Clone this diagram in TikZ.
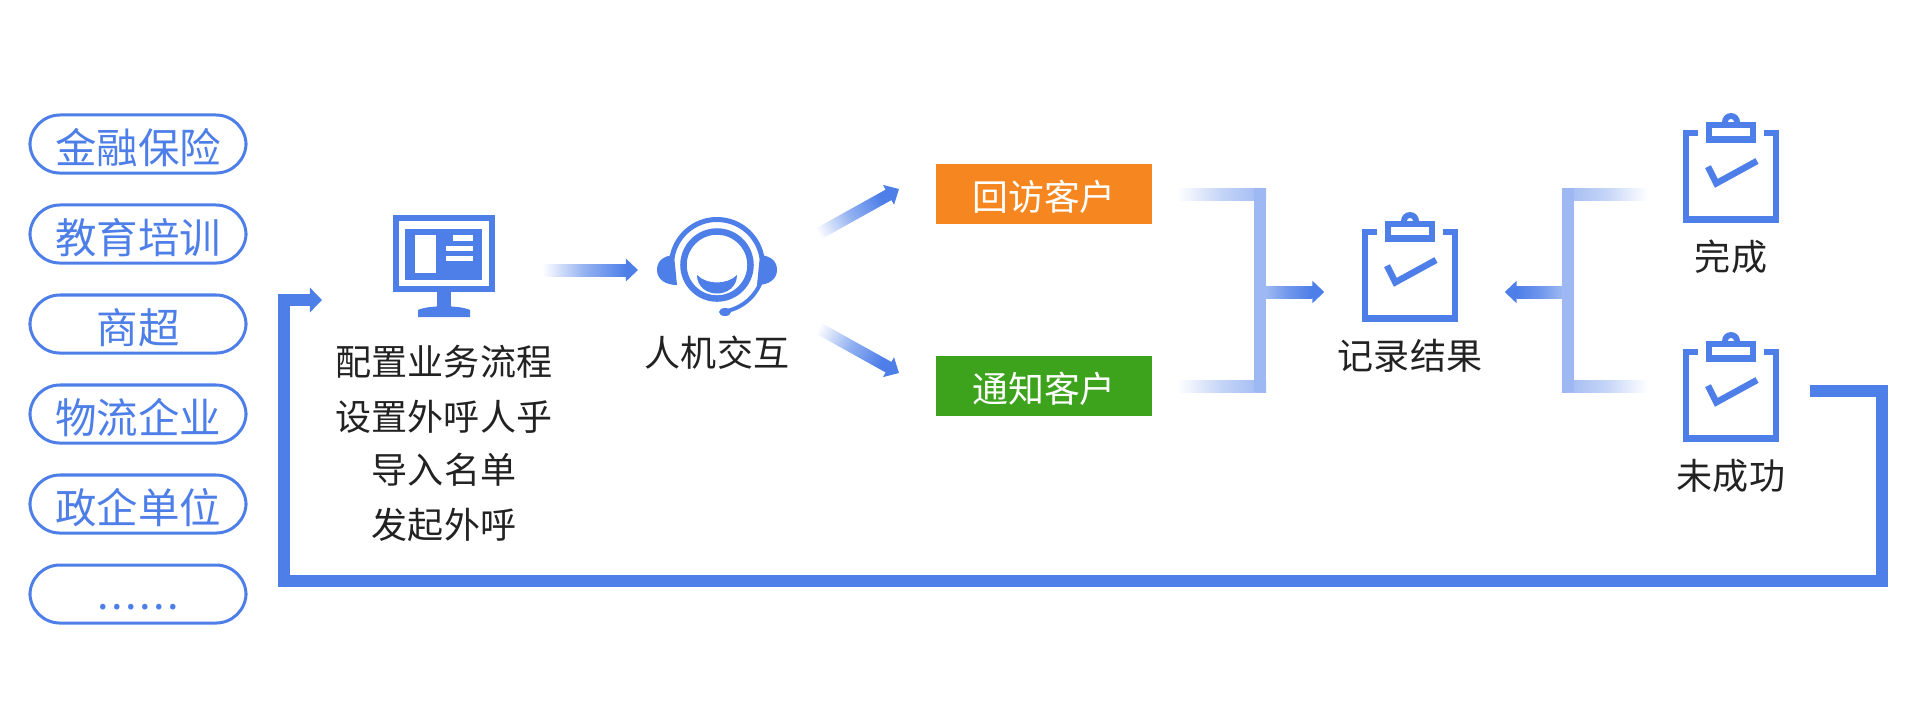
\documentclass[tikz,border=0pt]{standalone}
\usepackage{fontspec}
\setmainfont{Noto Sans CJK SC}
\usetikzlibrary{arrows.meta,calc}
\definecolor{flowblue}{HTML}{4E7FE8}
\definecolor{barblue}{HTML}{9DB8F2}
\definecolor{txtblack}{HTML}{222222}
\definecolor{visitorange}{HTML}{F68720}
\definecolor{noticegreen}{HTML}{3EA31C}
\tikzset{
	pill/.style={draw=flowblue,line width=.03cm,rounded corners=.3cm,minimum width=2.16cm,minimum height=.58cm,inner sep=0,text=flowblue,text height=.43cm,text depth=.05cm,font=\fontsize{11.8}{14}\selectfont},
	txt/.style={text=txtblack,inner sep=0,font=\fontsize{10.25}{12}\selectfont},
	colorbox/.style={minimum width=2.16cm,minimum height=.6cm,inner sep=0,outer sep=0,text=white,text height=.38cm,text depth=.05cm,font=\fontsize{10.2}{12}\selectfont},
	iconbox/.style={minimum width=.96cm,minimum height=1.1cm,inner sep=0},
	clipboard/.pic={
		\draw[flowblue,line width=.065cm] (-32.7,-35) -- (-45,-35) -- (-45,51.5) -- (45,51.5) -- (45,-35) -- (32.7,-35);
		\fill[flowblue] (-9,-46) arc[start angle=180,end angle=0,radius=.09cm] -- cycle;
		\fill[white] (0,-46) circle[radius=.03cm];
		\draw[flowblue,line width=.065cm] (-22,-43) rectangle (22,-28.5);
		\draw[flowblue,line width=.065cm] (-23,-1.3) -- (-14.7,15.3) -- (26,-7);
	},
	monitor/.pic={
		\fill[flowblue] (-51,-51) rectangle (51,26);
		\fill[white] (-45,-45) rectangle (45,20);
		\fill[flowblue] (-39,-37) rectangle (38,14);
		\fill[white] (-29,-31) rectangle (-8,7);
		\fill[white] (9,-31) rectangle (29,-25);
		\fill[white] (2,-20) rectangle (29,-15);
		\fill[white] (2,-10) rectangle (29,-5);
		\fill[flowblue] (-7,26) rectangle (7,42);
		\fill[flowblue] (-26,51) -- (-26,44) .. controls (-16,39) and (16,39) .. (26,44) -- (26,51) -- cycle;
	},
	headset/.pic={
		\draw[flowblue,line width=.065cm] (0,0) circle[radius=.335cm];
		\draw[flowblue,line width=.05cm] (0,0) +(172:.455cm) arc[start angle=172,end angle=8,radius=.455cm];
		\draw[flowblue,line width=.04cm] (0,0) +(-12:.47cm) arc[start angle=-12,end angle=-78,radius=.47cm];
		\fill[flowblue] (8,47) ellipse[x radius=.06cm,y radius=.04cm];
		\fill[flowblue] (-43,-10) .. controls (-55,-9) and (-60,-3) .. (-60,5) .. controls (-60,14) and (-52,20) .. (-40,20) -- cycle;
		\fill[flowblue] (43,-10) .. controls (55,-9) and (60,-3) .. (60,5) .. controls (60,14) and (52,20) .. (40,20) -- cycle;
		\fill[flowblue] (-20,10) .. controls (-10,20) and (10,20) .. (20,10) .. controls (20,22) and (10,28.5) .. (0,28.5) .. controls (-10,28.5) and (-20,22) .. (-20,10) -- cycle;
	}
}
\newcommand{\fadeline}[4]{
	\path let \p1=($(#2)-(#1)$),\n1={atan2(\y1,\x1)},\n2={veclen(\x1,\y1)},\n3={\n1+90} in
		node[anchor=west,rotate=\n1,inner sep=0,outer sep=0,minimum height=.12cm,minimum width=\n2,left color=#3,right color=#4,middle color=#4!60!#3,shading angle=\n3] at (#1) {};
}
\newcommand{\fadearrow}[4]{
	\fadeline{#1}{$(#2)!.12cm!(#1)$}{#3}{#4}
	\draw[#4,line width=.12cm,-{Triangle[length=.12cm,width=.22cm]}] ($(#2)!.13cm!(#1)$) -- (#2);
}
\begin{document}
\begin{tikzpicture}[x=.01cm,y=-.01cm]
	\useasboundingbox (0,0) rectangle (1920,720);

	\node[pill] (finance) at (138,144) {金融保险};
	\node[pill] (edu) at (138,234) {教育培训};
	\node[pill] (market) at (138,324) {商超};
	\node[pill] (logistics) at (138,414) {物流企业};
	\node[pill] (gov) at (138,504) {政企单位};
	\node[pill,text height=.36cm] (more) at (138,594) {\addfontfeature{LetterSpace=6}......};

	\node[iconbox] (config) at (444,266) {};
	\pic at (config) {monitor};
	\node[txt] (cfg1) at (444,362) {配置业务流程};
	\node[txt] (cfg2) at (444,417) {设置外呼人乎};
	\node[txt] (cfg3) at (444,470) {导入名单};
	\node[txt] (cfg4) at (444,525) {发起外呼};

	\node[iconbox] (agent) at (717,265) {};
	\pic at (agent) {headset};
	\node[txt] (agentlabel) at (717,353) {人机交互};

	\node[colorbox,fill=visitorange] (visit) at (1044,194) {回访客户};
	\node[colorbox,fill=noticegreen] (notice) at (1044,386) {通知客户};

	\node[iconbox] (record) at (1410,267) {};
	\pic at (record) {clipboard};
	\node[txt] (recordlabel) at (1410,356) {记录结果};

	\node[iconbox] (done) at (1731,168) {};
	\pic at (done) {clipboard};
	\node[txt] (donelabel) at (1731,257) {完成};
	\node[iconbox] (fail) at (1731,387) {};
	\pic at (fail) {clipboard};
	\node[txt] (faillabel) at (1731,476) {未成功};

	\coordinate (cfgout) at (542,270);
	\coordinate (agentin) at (638,270);
	\coordinate (upout) at (811,238);
	\coordinate (upin) at (899,189);
	\coordinate (downout) at (811,324);
	\coordinate (downin) at (899,373);
	\fadearrow{cfgout}{agentin}{white}{flowblue}
	\fadearrow{upout}{upin}{white}{flowblue}
	\fadearrow{downout}{downin}{white}{flowblue}

	\coordinate (ltop) at (1260,194);
	\coordinate (lbot) at (1260,386);
	\coordinate (lmid) at (1266,292);
	\coordinate (rtop) at (1568,194);
	\coordinate (rbot) at (1568,386);
	\coordinate (rmid) at (1562,292);
	\fadeline{$(visit.east)+(25,0)$}{$(ltop)+(6,0)$}{white}{barblue}
	\fadeline{$(notice.east)+(25,0)$}{$(lbot)+(6,0)$}{white}{barblue}
	\draw[barblue,line width=.12cm] ($(ltop)+(0,-6)$) -- ($(lbot)+(0,6)$);
	\fadearrow{lmid}{$(record.west)+(-37,25)$}{barblue}{flowblue}
	\fadeline{$(done.west)+(-34,26)$}{$(rtop)+(-6,0)$}{white}{barblue}
	\fadeline{$(fail.west)+(-34,-1)$}{$(rbot)+(-6,0)$}{white}{barblue}
	\draw[barblue,line width=.12cm] ($(rtop)+(0,-6)$) -- ($(rbot)+(0,6)$);
	\fadearrow{rmid}{$(record.east)+(46,25)$}{barblue}{flowblue}

	\coordinate (retry) at (1810,391);
	\coordinate (cfgin) at (322,300);
	\draw[flowblue,line width=.12cm,-{Triangle[length=.12cm,width=.24cm]}] (retry) -- (1882,391) -- (1882,581) -- (284,581) -- (284,300) -- (cfgin);
\end{tikzpicture}
\end{document}
